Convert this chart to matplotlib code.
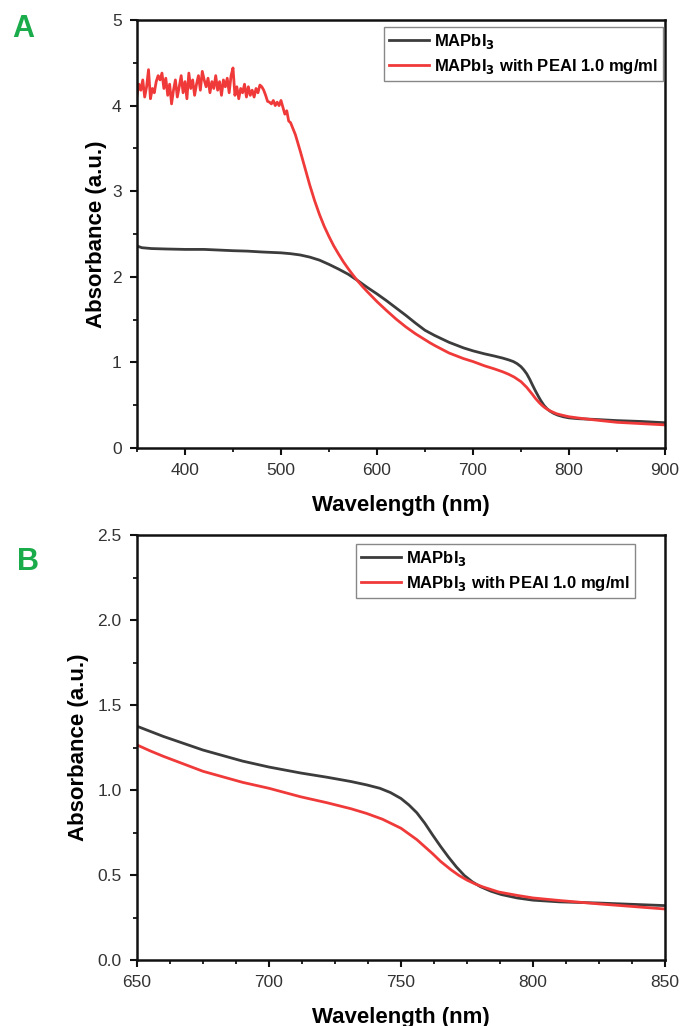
import numpy as np
import matplotlib
matplotlib.use("Agg")
import matplotlib.pyplot as plt
from matplotlib.ticker import MultipleLocator, FormatStrFormatter

plt.rcParams['font.family'] = ['Liberation Sans', 'DejaVu Sans']

# ---- data ----
wl_black = [350, 355, 365, 380, 400, 420, 440, 450, 465, 480, 500, 510, 520, 530,
            540, 550, 560, 570, 580, 590, 600, 610, 620, 630, 640, 650, 655, 660,
            675, 690, 700, 712, 722, 731, 737, 742, 746, 750, 753, 756, 759, 762,
            765, 768, 771, 774, 777, 780, 784, 788, 794, 800, 810, 825, 850, 875, 900]
abs_black = [2.36, 2.34, 2.33, 2.325, 2.32, 2.32, 2.31, 2.305, 2.30, 2.29, 2.28, 2.27,
             2.255, 2.23, 2.195, 2.145, 2.09, 2.03, 1.955, 1.875, 1.80, 1.72, 1.635,
             1.55, 1.46, 1.375, 1.345, 1.315, 1.235, 1.17, 1.135, 1.10, 1.075, 1.05,
             1.03, 1.01, 0.985, 0.95, 0.912, 0.866, 0.805, 0.735, 0.668, 0.605, 0.547,
             0.497, 0.46, 0.432, 0.405, 0.385, 0.365, 0.352, 0.342, 0.335, 0.32,
             0.31, 0.295]

wl_red = [350, 352, 354, 356, 358, 360, 362, 364, 366, 368, 370, 372, 374, 376, 378,
          380, 382, 384, 386, 388, 390, 392, 394, 396, 398, 400, 402, 404, 406, 408,
          410, 412, 414, 416, 418, 420, 422, 424, 426, 428, 430, 432, 434, 436, 438,
          440, 442, 444, 446, 448, 450, 452, 454, 456, 458, 460, 462, 464, 466, 468,
          470, 472, 474, 476, 478, 480, 482, 484, 486, 488, 490, 492, 494, 496, 498,
          500, 502, 504, 506, 508, 510, 515, 520, 525, 530, 535, 540, 545, 550, 555,
          560, 565, 570, 575, 580, 585, 590, 600, 610, 620, 630, 640, 650, 655, 660,
          675, 690, 700, 712, 722, 731, 737, 743, 750, 756, 762, 765, 769, 772, 775,
          778, 781, 787, 794, 800, 810, 825, 850, 875, 900]
abs_red = [4.12, 4.25, 4.18, 4.30, 4.10, 4.22, 4.42, 4.08, 4.20, 4.15, 4.28, 4.35,
           4.30, 4.38, 4.20, 4.32, 4.12, 4.25, 4.02, 4.18, 4.30, 4.10, 4.22, 4.35,
           4.15, 4.28, 4.08, 4.38, 4.20, 4.30, 4.12, 4.25, 4.35, 4.18, 4.40, 4.30,
           4.22, 4.32, 4.15, 4.28, 4.20, 4.35, 4.18, 4.28, 4.12, 4.30, 4.22, 4.32,
           4.15, 4.35, 4.44, 4.12, 4.22, 4.08, 4.20, 4.15, 4.25, 4.10, 4.22, 4.12,
           4.18, 4.10, 4.20, 4.15, 4.24, 4.22, 4.18, 4.12, 4.05, 4.04, 4.02, 4.06,
           4.00, 4.04, 4.00, 4.06, 3.98, 3.90, 3.94, 3.82, 3.80, 3.66, 3.47, 3.27,
           3.07, 2.89, 2.73, 2.59, 2.47, 2.36, 2.265, 2.175, 2.095, 2.02, 1.95, 1.885,
           1.825, 1.71, 1.605, 1.505, 1.415, 1.335, 1.265, 1.23, 1.198, 1.11, 1.045,
           1.01, 0.96, 0.925, 0.89, 0.862, 0.828, 0.775, 0.708, 0.625, 0.58, 0.53,
           0.497, 0.47, 0.448, 0.43, 0.40, 0.38, 0.365, 0.35, 0.33, 0.30, 0.285, 0.27]

label_black = r'MAPbI$_\mathbf{3}$'
label_red = r'MAPbI$_\mathbf{3}$ with PEAI 1.0 mg/ml'

col_black = '#3c3c3c'
col_red = '#f03a3a'
col_green = '#1aab4a'

fig = plt.figure(figsize=(6.81, 10.26), dpi=100)

W, H = 681, 1026
def rect(l, r, t, b):
    return [l / W, 1 - b / H, (r - l) / W, (b - t) / H]

ax1 = fig.add_axes(rect(137, 665, 20, 448))
ax2 = fig.add_axes(rect(137, 665, 535, 960))

panels = [
    (ax1, (350, 900), (0, 5), 100, 50, 1, 0.5, '%d', 'A', 23, 29, 107, (0.9962, 0.9836)),
    (ax2, (650, 850), (0, 2.5), 50, 12.5, 0.5, 0.25, '%.1f', 'B', 28, 562, 89, (0.943, 0.979)),
]

for ax, xl, yl, xmaj, xmin, ymaj, ymin, fmt, letter, let_x, let_y, ylab_x, anchor in panels:
    ax.plot(wl_black, abs_black, color=col_black, lw=2.0, label=label_black)
    ax.plot(wl_red, abs_red, color=col_red, lw=2.0, label=label_red)
    ax.set_xlim(*xl)
    ax.set_ylim(*yl)
    ax.xaxis.set_major_locator(MultipleLocator(xmaj))
    ax.xaxis.set_minor_locator(MultipleLocator(xmin))
    ax.yaxis.set_major_locator(MultipleLocator(ymaj))
    ax.yaxis.set_minor_locator(MultipleLocator(ymin))
    ax.yaxis.set_major_formatter(FormatStrFormatter(fmt))
    ax.tick_params(which='major', direction='out', length=5, width=1.5,
                   labelsize=12.5, colors='#111111', labelcolor='#333333', pad=6)
    ax.tick_params(which='minor', direction='out', length=3, width=1.2)
    for s in ax.spines.values():
        s.set_linewidth(1.8)
        s.set_color('#111111')
    ax.set_xlabel('Wavelength (nm)', fontsize=16, fontweight='bold', labelpad=12)
    ax.set_ylabel('Absorbance (a.u.)', fontsize=16, fontweight='bold')
    ax.yaxis.set_label_coords((ylab_x - 137) / 528, 0.5)
    leg = ax.legend(loc='upper right', bbox_to_anchor=anchor,
                    prop={'weight': 'bold', 'size': 12},
                    frameon=True, fancybox=False, edgecolor='#888888', framealpha=1,
                    handlelength=2.4, handletextpad=0.3, borderpad=0.3,
                    labelspacing=0.35, borderaxespad=0.0)
    leg.get_frame().set_linewidth(1.0)
    fig.text(let_x / W, 1 - let_y / H, letter,
             color=col_green, fontsize=22, fontweight='bold', ha='center', va='center')

fig.savefig('out.png', dpi=100)
